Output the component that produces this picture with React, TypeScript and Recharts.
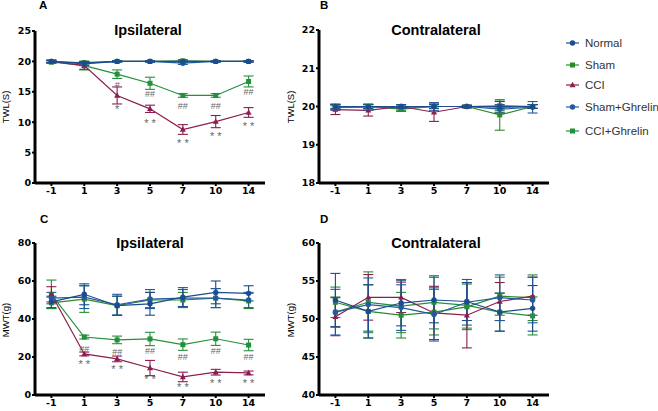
import { LineChart, Line, XAxis, YAxis, ErrorBar, LabelList } from 'recharts';

const DAYS = ['-1', '1', '3', '5', '7', '10', '14'];
const GROUPS = ['Normal', 'Sham', 'CCI', 'Sham+Ghrelin', 'CCI+Ghrelin'];
const COLORS = ['#1c4c8e', '#2b8a2b', '#8c1d4e', '#2459a0', '#23913c'];
const SHAPES = ['circle', 'square', 'triangle', 'circle', 'square'];
const DRAW_ORDER = [1, 4, 2, 3, 0];

// rows follow GROUPS order
// A - TWL ipsilateral
const A_MEAN = [
  [20, 19.7, 20, 20, 20, 20, 20],
  [19.9, 19.8, 20, 20, 20.1, 20, 20],
  [20, 19.3, 14.4, 12.2, 8.8, 10.1, 11.6],
  [20, 19.6, 20, 20, 19.7, 20, 20],
  [19.9, 19.3, 17.9, 16.4, 14.4, 14.4, 16.7],
];
const A_SEM = [
  [0.2, 0.3, 0.1, 0.1, 0.1, 0.1, 0.1],
  [0.2, 0.2, 0.1, 0.1, 0.2, 0.1, 0.1],
  [0.2, 0.6, 1.4, 0.6, 0.8, 1.0, 0.8],
  [0.2, 0.3, 0.1, 0.1, 0.2, 0.1, 0.1],
  [0.2, 0.7, 0.7, 1.0, 0.3, 0.3, 0.9],
];
const A_HASH = ['', '', '#', '##', '##', '##', '##'];
const A_STAR = ['', '', '*', '* *', '* *', '* *', '* *'];

// B - TWL contralateral
const B_MEAN = [
  [20, 20, 20, 20, 20, 20, 20],
  [20, 20, 19.93, 20, 20, 19.78, 20],
  [19.92, 19.9, 20, 19.85, 20, 19.98, 20],
  [19.98, 19.98, 20, 20, 20, 19.93, 19.98],
  [19.97, 20, 19.95, 20, 20, 20.02, 20],
];
const B_SEM = [
  [0.06, 0.06, 0.04, 0.05, 0.03, 0.05, 0.05],
  [0.05, 0.05, 0.06, 0.05, 0.03, 0.4, 0.05],
  [0.13, 0.15, 0.05, 0.24, 0.03, 0.15, 0.05],
  [0.08, 0.08, 0.05, 0.1, 0.03, 0.08, 0.15],
  [0.05, 0.05, 0.05, 0.05, 0.03, 0.12, 0.05],
];

// C - MWT ipsilateral
const C_MEAN = [
  [49, 53, 47, 48, 51.5, 54, 53.5],
  [48.5, 50.5, 47, 50, 50, 51, 49.5],
  [53, 21.6, 19, 14.2, 9.5, 12, 11.6],
  [51, 51.5, 47.5, 50.5, 51, 51, 50],
  [53, 30.5, 29, 29.5, 26.5, 29.6, 26.3],
];
const C_SEM = [
  [3, 5.5, 5, 6, 5, 6, 4],
  [3, 7, 5, 4, 4, 5, 4],
  [4, 1, 1.5, 4, 2.5, 1.5, 1],
  [3, 6, 5.5, 5, 4.5, 5, 4],
  [7.5, 1, 2, 3.5, 3, 3.5, 3],
];
const C_HASH = ['', '##', '##', '##', '##', '##', '##'];
const C_STAR = ['', '* *', '* *', '* *', '* *', '* *', '* *'];

// D - MWT contralateral
const D_MEAN = [
  [52.5, 51.0, 52.1, 52.5, 52.3, 50.9, 51.4],
  [52.2, 51.0, 50.5, 50.9, 51.6, 53.0, 52.8],
  [50.3, 52.85, 52.85, 50.8, 50.5, 52.3, 53.0],
  [50.9, 51.9, 51.5, 50.6, 52.2, 52.8, 52.5],
  [50.9, 52.2, 51.7, 52.2, 51.8, 50.9, 50.4],
];
const D_SEM = [
  [3.5, 3.5, 3, 3, 2.5, 2.5, 3],
  [2, 3.5, 3, 3, 3, 2.5, 3],
  [2.5, 3, 2, 3.5, 4.3, 2.5, 2.5],
  [3, 3.5, 3, 3.5, 3, 3, 3],
  [2, 4, 3.5, 3.5, 3, 2.5, 2.5],
];

const buildRows = (mean: number[][], sem: number[][], hash?: string[], star?: string[]) =>
  DAYS.map((day, i) => {
    const row: any = { day, hash: hash ? hash[i] : '', star: star ? star[i] : '' };
    mean.forEach((m, g) => {
      row[`g${g}`] = m[i];
      row[`e${g}`] = sem[g][i];
    });
    return row;
  });

function Marker({ cx, cy, shape, color }: any) {
  if (cx == null || cy == null) return null;
  if (shape === 'square') return <rect x={cx - 2.5} y={cy - 2.5} width={5} height={5} fill={color} />;
  if (shape === 'triangle')
    return <polygon points={`${cx},${cy - 3.2} ${cx - 3},${cy + 2.2} ${cx + 3},${cy + 2.2}`} fill={color} />;
  return <circle cx={cx} cy={cy} r={2.7} fill={color} />;
}

const noteLabel = (offset: number, size: number) => (props: any) => {
  const { x, y, value, index } = props;
  if (!value) return null;
  return (
    <text key={`n${index}`} x={x} y={y + offset} textAnchor="middle" dominantBaseline="central"
      fontSize={size} fill="#666" fontFamily="Liberation Sans, Arial, sans-serif">
      {value}
    </text>
  );
};

const tickStyle = { fontFamily: 'DejaVu Sans, sans-serif', fontWeight: 'bold', fontSize: 9.5, fill: '#000' };

interface PanelProps {
  left: number;
  top: number;
  marginTop: number;
  rows: any[];
  domain: [number, number];
  ticks: number[];
  hashOffset?: number;
  starOffset?: number;
}

function Panel({ left, top, marginTop, rows, domain, ticks, hashOffset = 11, starOffset = 12 }: PanelProps) {
  return (
    <div style={{ position: 'absolute', left, top, width: 270, height: 200 }}>
      <LineChart width={270} height={200} data={rows} margin={{ top: marginTop, right: 5, bottom: 0, left: 0 }}>
        <XAxis
          dataKey="day"
          height={17}
          interval={0}
          padding={{ left: 16.4, right: 16.4 }}
          axisLine={{ stroke: '#000', strokeWidth: 3 }}
          tickLine={{ stroke: '#000', strokeWidth: 2 }}
          tickSize={3}
          tickMargin={1}
          tick={tickStyle}
        />
        <YAxis
          width={35}
          type="number"
          domain={domain}
          ticks={ticks}
          interval={0}
          axisLine={{ stroke: '#000', strokeWidth: 3 }}
          tickLine={{ stroke: '#000', strokeWidth: 2 }}
          tickSize={3}
          tickMargin={1}
          tick={tickStyle}
        />
        {DRAW_ORDER.map((g) => (
          <Line
            key={g}
            type="linear"
            dataKey={`g${g}`}
            stroke={COLORS[g]}
            strokeWidth={1.2}
            activeDot={false}
            isAnimationActive={false}
            dot={(p: any) => (
              <Marker key={`d${g}-${p.index}`} cx={p.cx} cy={p.cy} shape={SHAPES[g]} color={COLORS[g]} />
            )}
          >
            <ErrorBar dataKey={`e${g}`} width={5} stroke={COLORS[g]} strokeWidth={1.1} direction="y" />
            {g === 4 && <LabelList dataKey="hash" content={noteLabel(hashOffset, 9)} />}
            {g === 2 && <LabelList dataKey="star" content={noteLabel(starOffset, 11)} />}
          </Line>
        ))}
      </LineChart>
    </div>
  );
}

const boldText = (txt: string, x: number, baseline: number, size: number, center = true) => (
  <div
    style={{
      position: 'absolute',
      left: center ? x - 100 : x,
      width: center ? 200 : undefined,
      top: baseline - size * 0.83,
      fontSize: size,
      lineHeight: `${size}px`,
      fontWeight: 'bold',
      fontFamily: 'Liberation Sans, Arial, sans-serif',
      textAlign: center ? 'center' : 'left',
      color: '#000',
      whiteSpace: 'nowrap',
    }}
  >
    {txt}
  </div>
);

const yTitle = (txt: string, cx: number, cy: number) => (
  <div
    style={{
      position: 'absolute',
      left: cx - 40,
      top: cy - 6,
      width: 80,
      height: 12,
      lineHeight: '12px',
      textAlign: 'center',
      fontSize: 9.5,
      fontFamily: 'Liberation Sans, Arial, sans-serif',
      color: '#000',
      transform: 'rotate(-90deg)',
    }}
  >
    {txt}
  </div>
);

const LEGEND_Y = [43, 65, 85, 107, 131];

export default function App() {
  return (
    <div style={{ position: 'fixed', left: 0, top: 0, width: 658, height: 411, background: '#fff', overflow: 'hidden' }}>
      <Panel left={0} top={0} marginTop={31} rows={buildRows(A_MEAN, A_SEM, A_HASH, A_STAR)}
        domain={[0, 25]} ticks={[0, 5, 10, 15, 20, 25]} hashOffset={11} starOffset={14} />
      <Panel left={284} top={0} marginTop={30} rows={buildRows(B_MEAN, B_SEM)}
        domain={[18, 22]} ticks={[18, 19, 20, 21, 22]} />
      <Panel left={0} top={212} marginTop={31} rows={buildRows(C_MEAN, C_SEM, C_HASH, C_STAR)}
        domain={[0, 80]} ticks={[0, 20, 40, 60, 80]} hashOffset={12} starOffset={10.5} />
      <Panel left={284} top={212} marginTop={31} rows={buildRows(D_MEAN, D_SEM)}
        domain={[40, 60]} ticks={[40, 45, 50, 55, 60]} />

      {boldText('A', 39, 10, 11.5, false)}
      {boldText('B', 320, 10, 11.5, false)}
      {boldText('C', 40, 224, 11.5, false)}
      {boldText('D', 320, 224, 11.5, false)}

      {boldText('Ipsilateral', 148, 35, 14.5)}
      {boldText('Contralateral', 436, 35, 14.5)}
      {boldText('Ipsilateral', 150, 248, 14.5)}
      {boldText('Contralateral', 436, 248, 14.5)}

      {yTitle('TWL(S)', 6, 107)}
      {yTitle('TWL(S)', 291, 107)}
      {yTitle('MWT(g)', 6, 320)}
      {yTitle('MWT(g)', 291, 320)}

      {GROUPS.map((name, g) => (
        <div key={name} style={{ position: 'absolute', left: 565, top: LEGEND_Y[g] - 7, height: 14, display: 'flex', alignItems: 'center' }}>
          <svg width={16} height={10} style={{ marginRight: 4 }}>
            <line x1={1} y1={5} x2={14} y2={5} stroke={COLORS[g]} strokeWidth={1.2} />
            <Marker cx={7.5} cy={5} shape={SHAPES[g]} color={COLORS[g]} />
          </svg>
          <span style={{ fontFamily: 'Liberation Sans, Arial, sans-serif', fontSize: 11.5, color: '#333', whiteSpace: 'nowrap' }}>
            {name}
          </span>
        </div>
      ))}
    </div>
  );
}
